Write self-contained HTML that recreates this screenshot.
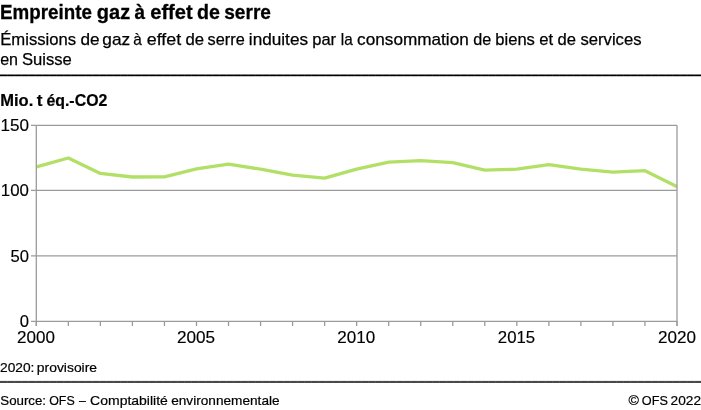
<!DOCTYPE html>
<html lang="fr"><head><meta charset="utf-8"><title>Empreinte gaz à effet de serre</title>
<style>
html,body{margin:0;padding:0;background:#fff;}
body{width:701px;height:410px;overflow:hidden;}
svg{display:block;}
text{font-family:"Liberation Sans",sans-serif;fill:#000;}
.t{font-weight:bold;font-size:20.8px;stroke:#000;stroke-width:0.3px;}
.s{font-size:16.4px;stroke:#000;stroke-width:0.25px;}
.u{font-weight:bold;font-size:16.2px;stroke:#000;stroke-width:0.2px;}
.a{font-size:16.6px;stroke:#000;stroke-width:0.15px;}
.f{font-size:13px;stroke:#000;stroke-width:0.2px;}

.g line{stroke:#9b9b9b;stroke-width:1.3;}
</style></head><body>
<svg width="701" height="410" viewBox="0 0 701 410">
<rect width="701" height="410" fill="#fff"/>
<text class="t" y="19"><tspan x="0.04" textLength="91.81" lengthAdjust="spacingAndGlyphs">Empreinte</tspan> <tspan x="96.81" textLength="33.34" lengthAdjust="spacingAndGlyphs">gaz</tspan> <tspan x="134.62" textLength="10.53" lengthAdjust="spacingAndGlyphs">à</tspan> <tspan x="150.21" textLength="42.44" lengthAdjust="spacingAndGlyphs">effet</tspan> <tspan x="196.93" textLength="22.94" lengthAdjust="spacingAndGlyphs">de</tspan> <tspan x="224.24" textLength="46.69" lengthAdjust="spacingAndGlyphs">serre</tspan></text>
<text class="s" y="45"><tspan x="0.24" textLength="75.92" lengthAdjust="spacingAndGlyphs">Émissions</tspan> <tspan x="80.46" textLength="19.11" lengthAdjust="spacingAndGlyphs">de</tspan> <tspan x="102.35" textLength="27.84" lengthAdjust="spacingAndGlyphs">gaz</tspan> <tspan x="133.22" textLength="8.55" lengthAdjust="spacingAndGlyphs">à</tspan> <tspan x="146.74" textLength="34.41" lengthAdjust="spacingAndGlyphs">effet</tspan> <tspan x="185.53" textLength="18.59" lengthAdjust="spacingAndGlyphs">de</tspan> <tspan x="207.62" textLength="37.11" lengthAdjust="spacingAndGlyphs">serre</tspan> <tspan x="248.86" textLength="59.15" lengthAdjust="spacingAndGlyphs">induites</tspan> <tspan x="312.22" textLength="23.9" lengthAdjust="spacingAndGlyphs">par</tspan> <tspan x="340.79" textLength="11.91" lengthAdjust="spacingAndGlyphs">la</tspan> <tspan x="357.11" textLength="111.69" lengthAdjust="spacingAndGlyphs">consommation</tspan> <tspan x="473.25" textLength="17.98" lengthAdjust="spacingAndGlyphs">de</tspan> <tspan x="495.34" textLength="39.56" lengthAdjust="spacingAndGlyphs">biens</tspan> <tspan x="539.25" textLength="13.84" lengthAdjust="spacingAndGlyphs">et</tspan> <tspan x="557.53" textLength="18.46" lengthAdjust="spacingAndGlyphs">de</tspan> <tspan x="580.44" textLength="61.07" lengthAdjust="spacingAndGlyphs">services</tspan></text>
<text class="s" y="65"><tspan x="0.16" textLength="17.88" lengthAdjust="spacingAndGlyphs">en</tspan> <tspan x="21.97" textLength="49.88" lengthAdjust="spacingAndGlyphs">Suisse</tspan></text>
<rect x="0" y="74" width="701" height="1" fill="#808080"/><rect x="0" y="75" width="701" height="1" fill="#000"/><rect x="0" y="76" width="701" height="1" fill="#c4c4c4"/>
<line x1="7.1" x2="701" y1="75.5" y2="75.5" stroke="#fff" stroke-opacity="0.2" stroke-width="3" stroke-dasharray="0.4 6.6808"/>
<text class="u" y="106"><tspan x="0.27" textLength="33.05" lengthAdjust="spacingAndGlyphs">Mio.</tspan> <tspan x="36.68" textLength="5.71" lengthAdjust="spacingAndGlyphs">t</tspan> <tspan x="46.42" textLength="60.94" lengthAdjust="spacingAndGlyphs">éq.-CO2</tspan></text>
<clipPath id="pc"><rect x="36.3" y="125.3" width="640.7" height="196.0"/></clipPath>
<polyline clip-path="url(#pc)" points="36.30,167.00 68.34,158.00 100.37,173.40 132.41,177.00 164.44,176.80 196.48,168.80 228.51,164.20 260.55,169.20 292.58,175.20 324.62,178.20 356.65,169.20 388.69,162.20 420.72,160.70 452.76,162.70 484.79,170.20 516.83,169.20 548.86,164.70 580.89,169.20 612.93,172.20 644.97,170.70 677.00,186.60" fill="none" stroke="#b2e066" stroke-width="3.3" stroke-linejoin="round" stroke-linecap="square"/>
<g class="g">
<line x1="31" x2="677.0" y1="255.97" y2="255.97"/>
<line x1="31" x2="677.0" y1="190.45" y2="190.45"/>
<line x1="31" x2="677.0" y1="125.3" y2="125.3"/>
<line x1="31" x2="677.0" y1="321.3" y2="321.3"/>
<line x1="36.3" x2="36.3" y1="125.3" y2="326"/>
<line x1="677.0" x2="677.0" y1="125.3" y2="326"/>
<line x1="36.30" x2="36.30" y1="321.3" y2="326"/>
<line x1="68.34" x2="68.34" y1="321.3" y2="326"/>
<line x1="100.37" x2="100.37" y1="321.3" y2="326"/>
<line x1="132.41" x2="132.41" y1="321.3" y2="326"/>
<line x1="164.44" x2="164.44" y1="321.3" y2="326"/>
<line x1="196.48" x2="196.48" y1="321.3" y2="326"/>
<line x1="228.51" x2="228.51" y1="321.3" y2="326"/>
<line x1="260.55" x2="260.55" y1="321.3" y2="326"/>
<line x1="292.58" x2="292.58" y1="321.3" y2="326"/>
<line x1="324.62" x2="324.62" y1="321.3" y2="326"/>
<line x1="356.65" x2="356.65" y1="321.3" y2="326"/>
<line x1="388.69" x2="388.69" y1="321.3" y2="326"/>
<line x1="420.72" x2="420.72" y1="321.3" y2="326"/>
<line x1="452.76" x2="452.76" y1="321.3" y2="326"/>
<line x1="484.79" x2="484.79" y1="321.3" y2="326"/>
<line x1="516.83" x2="516.83" y1="321.3" y2="326"/>
<line x1="548.86" x2="548.86" y1="321.3" y2="326"/>
<line x1="580.89" x2="580.89" y1="321.3" y2="326"/>
<line x1="612.93" x2="612.93" y1="321.3" y2="326"/>
<line x1="644.97" x2="644.97" y1="321.3" y2="326"/>
<line x1="677.00" x2="677.00" y1="321.3" y2="326"/>
</g>
<text class="a" x="19.68" y="327" textLength="9.25" lengthAdjust="spacingAndGlyphs">0</text>
<text class="a" x="10.43" y="262" textLength="18.49" lengthAdjust="spacingAndGlyphs">50</text>
<text class="a" x="0.83" y="196" textLength="28.12" lengthAdjust="spacingAndGlyphs">100</text>
<text class="a" x="0.59" y="131" textLength="28.52" lengthAdjust="spacingAndGlyphs">150</text>
<text class="a" x="17.05" y="343" textLength="37.9" lengthAdjust="spacingAndGlyphs">2000</text>
<text class="a" x="176.96" y="343" textLength="38.15" lengthAdjust="spacingAndGlyphs">2005</text>
<text class="a" x="337.35" y="343" textLength="37.93" lengthAdjust="spacingAndGlyphs">2010</text>
<text class="a" x="497.81" y="343" textLength="37.36" lengthAdjust="spacingAndGlyphs">2015</text>
<text class="a" x="658.04" y="343" textLength="38.05" lengthAdjust="spacingAndGlyphs">2020</text>

<text class="f" y="372"><tspan x="0.06" textLength="34.4" lengthAdjust="spacingAndGlyphs">2020:</tspan> <tspan x="36.85" textLength="60.2" lengthAdjust="spacingAndGlyphs">provisoire</tspan></text>
<rect x="0" y="380" width="701" height="1" fill="#ececec"/><rect x="0" y="381" width="701" height="2" fill="#484848"/>
<line x1="7.1" x2="701" y1="381.5" y2="381.5" stroke="#fff" stroke-opacity="0.2" stroke-width="4" stroke-dasharray="0.4 6.6808"/>
<text class="f" y="405"><tspan x="0.28" textLength="45.8" lengthAdjust="spacingAndGlyphs">Source:</tspan> <tspan x="49.2" textLength="25.56" lengthAdjust="spacingAndGlyphs">OFS</tspan> <tspan x="79.07" textLength="6.78" lengthAdjust="spacingAndGlyphs">–</tspan> <tspan x="90.14" textLength="77.71" lengthAdjust="spacingAndGlyphs">Comptabilité</tspan> <tspan x="171.19" textLength="108.4" lengthAdjust="spacingAndGlyphs">environnementale</tspan></text>
<text class="f" y="405"><tspan x="628.58" textLength="10.43" lengthAdjust="spacingAndGlyphs">©</tspan> <tspan x="641.87" textLength="26.11" lengthAdjust="spacingAndGlyphs">OFS</tspan> <tspan x="670.62" textLength="30.41" lengthAdjust="spacingAndGlyphs">2022</tspan></text>
</svg>
</body></html>
